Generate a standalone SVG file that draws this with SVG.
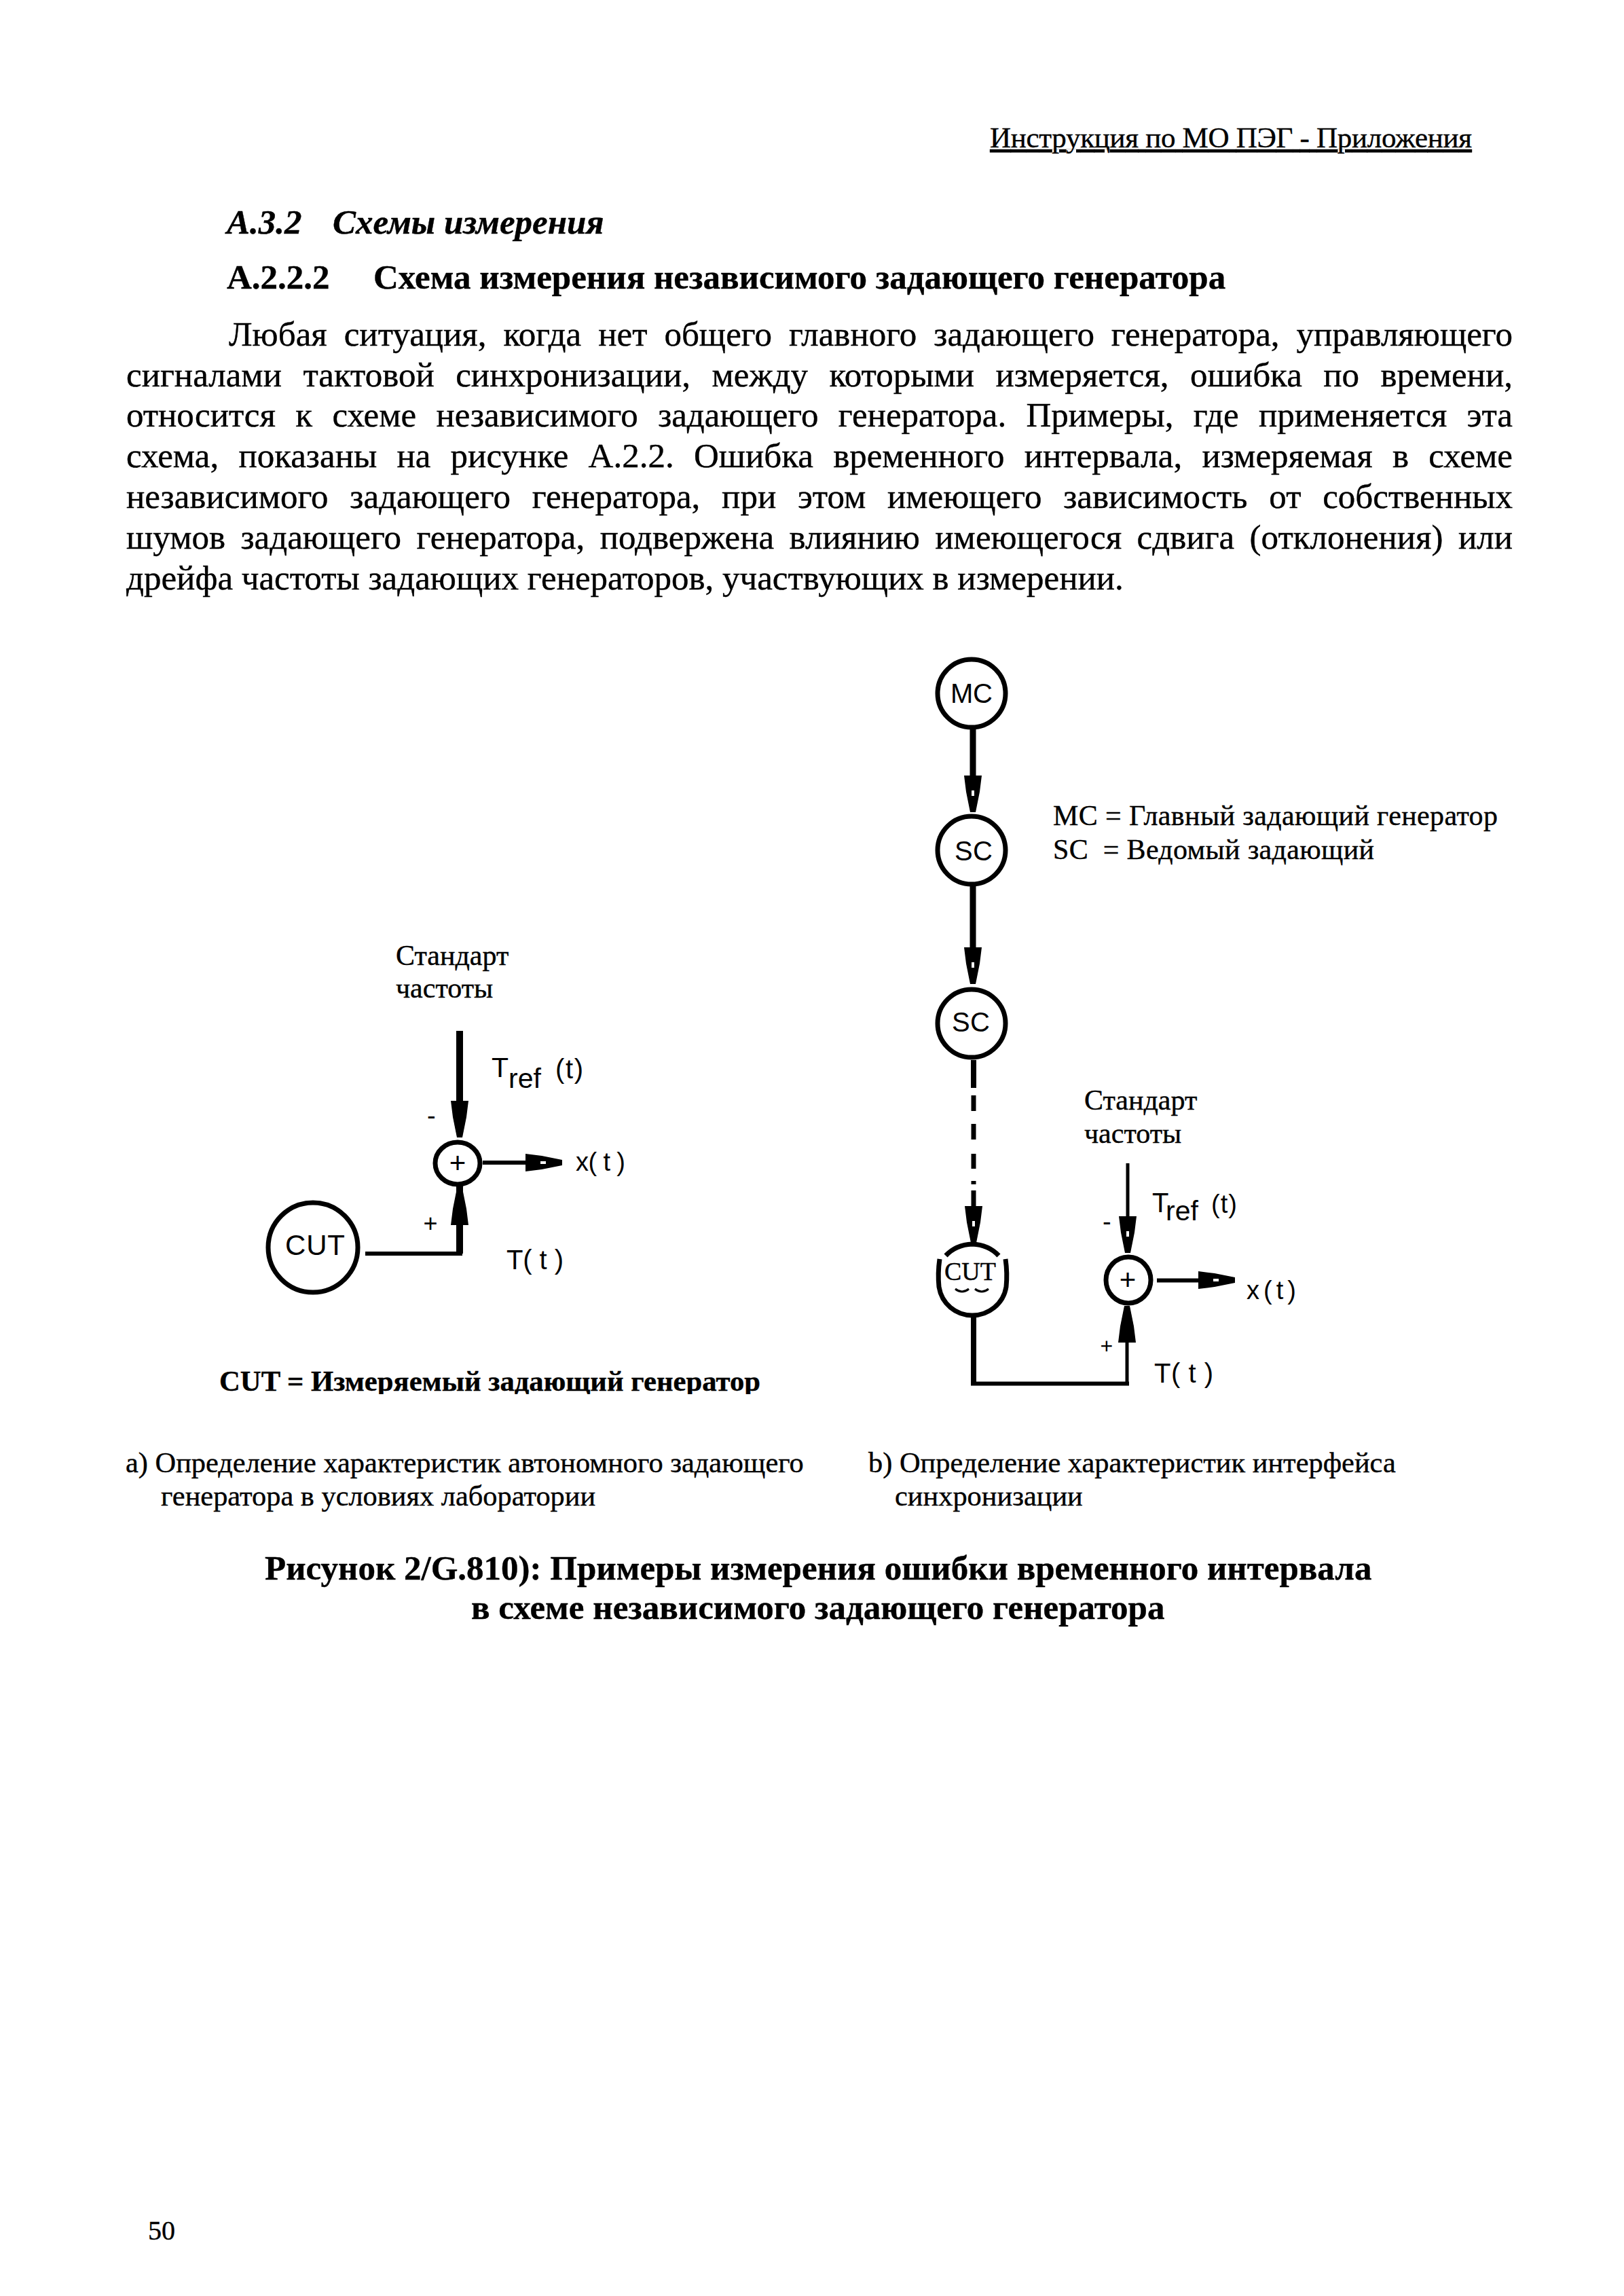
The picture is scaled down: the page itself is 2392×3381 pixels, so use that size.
<svg xmlns="http://www.w3.org/2000/svg" width="2392" height="3381" viewBox="0 0 2392 3381">
<style>
text{fill:#000}
.s{font-family:"Liberation Serif","Times New Roman",serif;stroke:#000;stroke-width:.4}
.a{font-family:"Liberation Sans",Arial,sans-serif}
.b{font-size:51px}
.c{font-size:42.4px}
.h{font-size:51px;font-weight:bold}
.n{fill:#fff;stroke:#000;stroke-width:7}
.l{fill:none;stroke:#000;stroke-linecap:butt}
</style>
<defs>
<path id="solid" d="M-13-54H13L10-30 4 0H-4L-10-30Z" fill="#000"/>
<path id="hollow" d="M-13-54H13L10-30 4 0H-4L-10-30Z M-2-32 L2-32 2-24-2-24Z" fill="#000" fill-rule="evenodd"/>
<clipPath id="cutclip"><rect x="300" y="2000" width="900" height="53"/></clipPath>
</defs>
<rect width="2392" height="3381" fill="#fff"/>
<g id="page-text" class="s">
<text x="1458" y="217" font-size="43" text-decoration="underline" textLength="710">Инструкция по МО ПЭГ - Приложения</text>
<text x="334" y="344" class="h" font-style="italic">А.3.2</text>
<text x="490" y="344" class="h" font-style="italic">Схемы измерения</text>
<text x="334" y="425" class="h">А.2.2.2</text>
<text x="550" y="425" class="h">Схема измерения независимого задающего генератора</text>
<text class="b" x="337" y="509" word-spacing="12.2" textLength="1891">Любая ситуация, когда нет общего главного задающего генератора, управляющего</text>
<text class="b" x="186" y="569" word-spacing="18.7" textLength="2042">сигналами тактовой синхронизации, между которыми измеряется, ошибка по времени,</text>
<text class="b" x="186" y="628" word-spacing="16.7" textLength="2042">относится к схеме независимого задающего генератора. Примеры, где применяется эта</text>
<text class="b" x="186" y="688" word-spacing="16.5" textLength="2042">схема, показаны на рисунке А.2.2. Ошибка временного интервала, измеряемая в схеме</text>
<text class="b" x="186" y="748" word-spacing="19" textLength="2042">независимого задающего генератора, при этом имеющего зависимость от собственных</text>
<text class="b" x="186" y="808" word-spacing="9.6" textLength="2042">шумов задающего генератора, подвержена влиянию имеющегося сдвига (отклонения) или</text>
<text class="b" x="186" y="868">дрейфа частоты задающих генераторов, участвующих в измерении.</text>
<text x="323" y="2048" font-size="42.700" font-weight="bold" clip-path="url(#cutclip)">CUT = Измеряемый задающий генератор</text>
<text class="c" x="185" y="2168">a) Определение характеристик автономного задающего</text>
<text class="c" x="237" y="2217">генератора в условиях лаборатории</text>
<text class="c" x="1279" y="2168">b) Определение характеристик интерфейса</text>
<text class="c" x="1318" y="2217">синхронизации</text>
<text x="390" y="2326" class="h">Рисунок 2/G.810): Примеры измерения ошибки временного интервала</text>
<text x="694" y="2384" class="h">в схеме независимого задающего генератора</text>
<text x="218" y="3298" font-size="40">50</text>
</g>
<g id="connectors">
<path class="l" stroke-width="10" d="M677 1518V1630"/>
<use href="#solid" transform="translate(677 1675)"/>
<path class="l" stroke-width="6" d="M711 1712H785"/>
<use href="#hollow" transform="translate(828 1712) rotate(-90)"/>
<path class="l" stroke-width="6" d="M538 1846H681"/>
<path class="l" stroke-width="10" d="M677 1846V1745"/>
<use href="#hollow" transform="translate(677 1750) rotate(180)"/>
<path class="l" stroke-width="9" d="M1433 1072V1160"/>
<use href="#hollow" transform="translate(1433 1196)"/>
<path class="l" stroke-width="9" d="M1433 1305V1410"/>
<use href="#hollow" transform="translate(1433 1449)"/>
<path class="l" stroke-width="8" d="M1434 1561V1602"/>
<path class="l" stroke-width="7" d="M1434 1613V1636M1434 1655V1678M1434 1699V1721M1434 1739V1744M1434 1753V1790"/>
<use href="#hollow" transform="translate(1434 1830)"/>
<path class="l" stroke-width="8" d="M1434 1940V2038"/>
<path class="l" stroke-width="6" d="M1430 2037.500H1663"/>
<path class="l" stroke-width="5" d="M1660 2037V1960"/>
<use href="#solid" transform="translate(1660 1923) rotate(180)"/>
<path class="l" stroke-width="5" d="M1661 1713V1800"/>
<use href="#hollow" transform="translate(1661 1845)"/>
<path class="l" stroke-width="6" d="M1704 1885.500H1775"/>
<use href="#hollow" transform="translate(1819 1885) rotate(-90)"/>
</g>
<g id="a-labels" class="a">
<text class="s" x="583" y="1421" font-size="42">Стандарт</text>
<text class="s" x="583" y="1469" font-size="42">частоты</text>
<text x="724" y="1586" font-size="41">T</text>
<text x="749" y="1602" font-size="41">ref</text>
<text x="818" y="1588" font-size="40" textLength="41">(t)</text>
<text x="629" y="1656" font-size="38">-</text>
<text x="848" y="1724" font-size="38" xml:space="preserve" textLength="73">x( t )</text>
<text x="623.500" y="1814" font-size="36">+</text>
<text x="746" y="1869" font-size="40" xml:space="preserve" textLength="84">T( t )</text>
</g>
<g id="cut-a">
<circle class="n" cx="461" cy="1837" r="66"/>
<text class="a" x="420" y="1848" font-size="42" textLength="88">CUT</text>
</g>
<g id="sum-a">
<ellipse class="n" cx="674" cy="1713" rx="33" ry="31"/>
<text class="a" x="674" y="1727" font-size="42" text-anchor="middle">+</text>
</g>
<g id="mc">
<circle class="n" cx="1431" cy="1021" r="50"/>
<text class="a" x="1400" y="1035" font-size="40" textLength="62">MC</text>
</g>
<g id="sc1">
<circle class="n" cx="1431" cy="1252" r="50"/>
<text class="a" x="1406" y="1267" font-size="40" textLength="56">SC</text>
</g>
<g id="sc2">
<circle class="n" cx="1431" cy="1507" r="50"/>
<text class="a" x="1402" y="1519" font-size="40" textLength="56">SC</text>
</g>
<g id="cut-b">
<path class="l" stroke-width="7" d="M1393 1849Q1408 1833 1432 1832Q1456 1833 1471 1849M1384 1854Q1381 1875 1383 1895C1387 1920 1408 1937 1432 1937C1456 1937 1478 1920 1482 1895Q1484 1875 1481 1854"/>
<text class="s" x="1391" y="1885" font-size="38" textLength="76">CUT</text>
<path class="l" stroke-width="3" d="M1407 1898Q1417 1906 1427 1898M1436 1898Q1446 1906 1456 1898"/>
</g>
<g id="sum-b">
<ellipse class="n" cx="1662" cy="1885" rx="33" ry="34"/>
<text class="a" x="1661" y="1899" font-size="42" text-anchor="middle">+</text>
</g>
<g id="b-labels" class="a">
<text class="s" x="1551" y="1215" font-size="42" textLength="655">MC = Главный задающий генератор</text>
<text class="s" x="1551" y="1265" font-size="42" xml:space="preserve" textLength="473">SC  = Ведомый задающий</text>
<text class="s" x="1597" y="1634" font-size="42">Стандарт</text>
<text class="s" x="1597" y="1683" font-size="42">частоты</text>
<text x="1697" y="1785" font-size="40">T</text>
<text x="1717" y="1797" font-size="41">ref</text>
<text x="1784" y="1786" font-size="38" textLength="38">(t)</text>
<text x="1624" y="1812" font-size="38">-</text>
<text x="1836" y="1913" font-size="38" textLength="73">x(t)</text>
<text x="1620.600" y="1993" font-size="32">+</text>
<text x="1700" y="2036" font-size="40" xml:space="preserve" textLength="87">T( t )</text>
</g>
</svg>
